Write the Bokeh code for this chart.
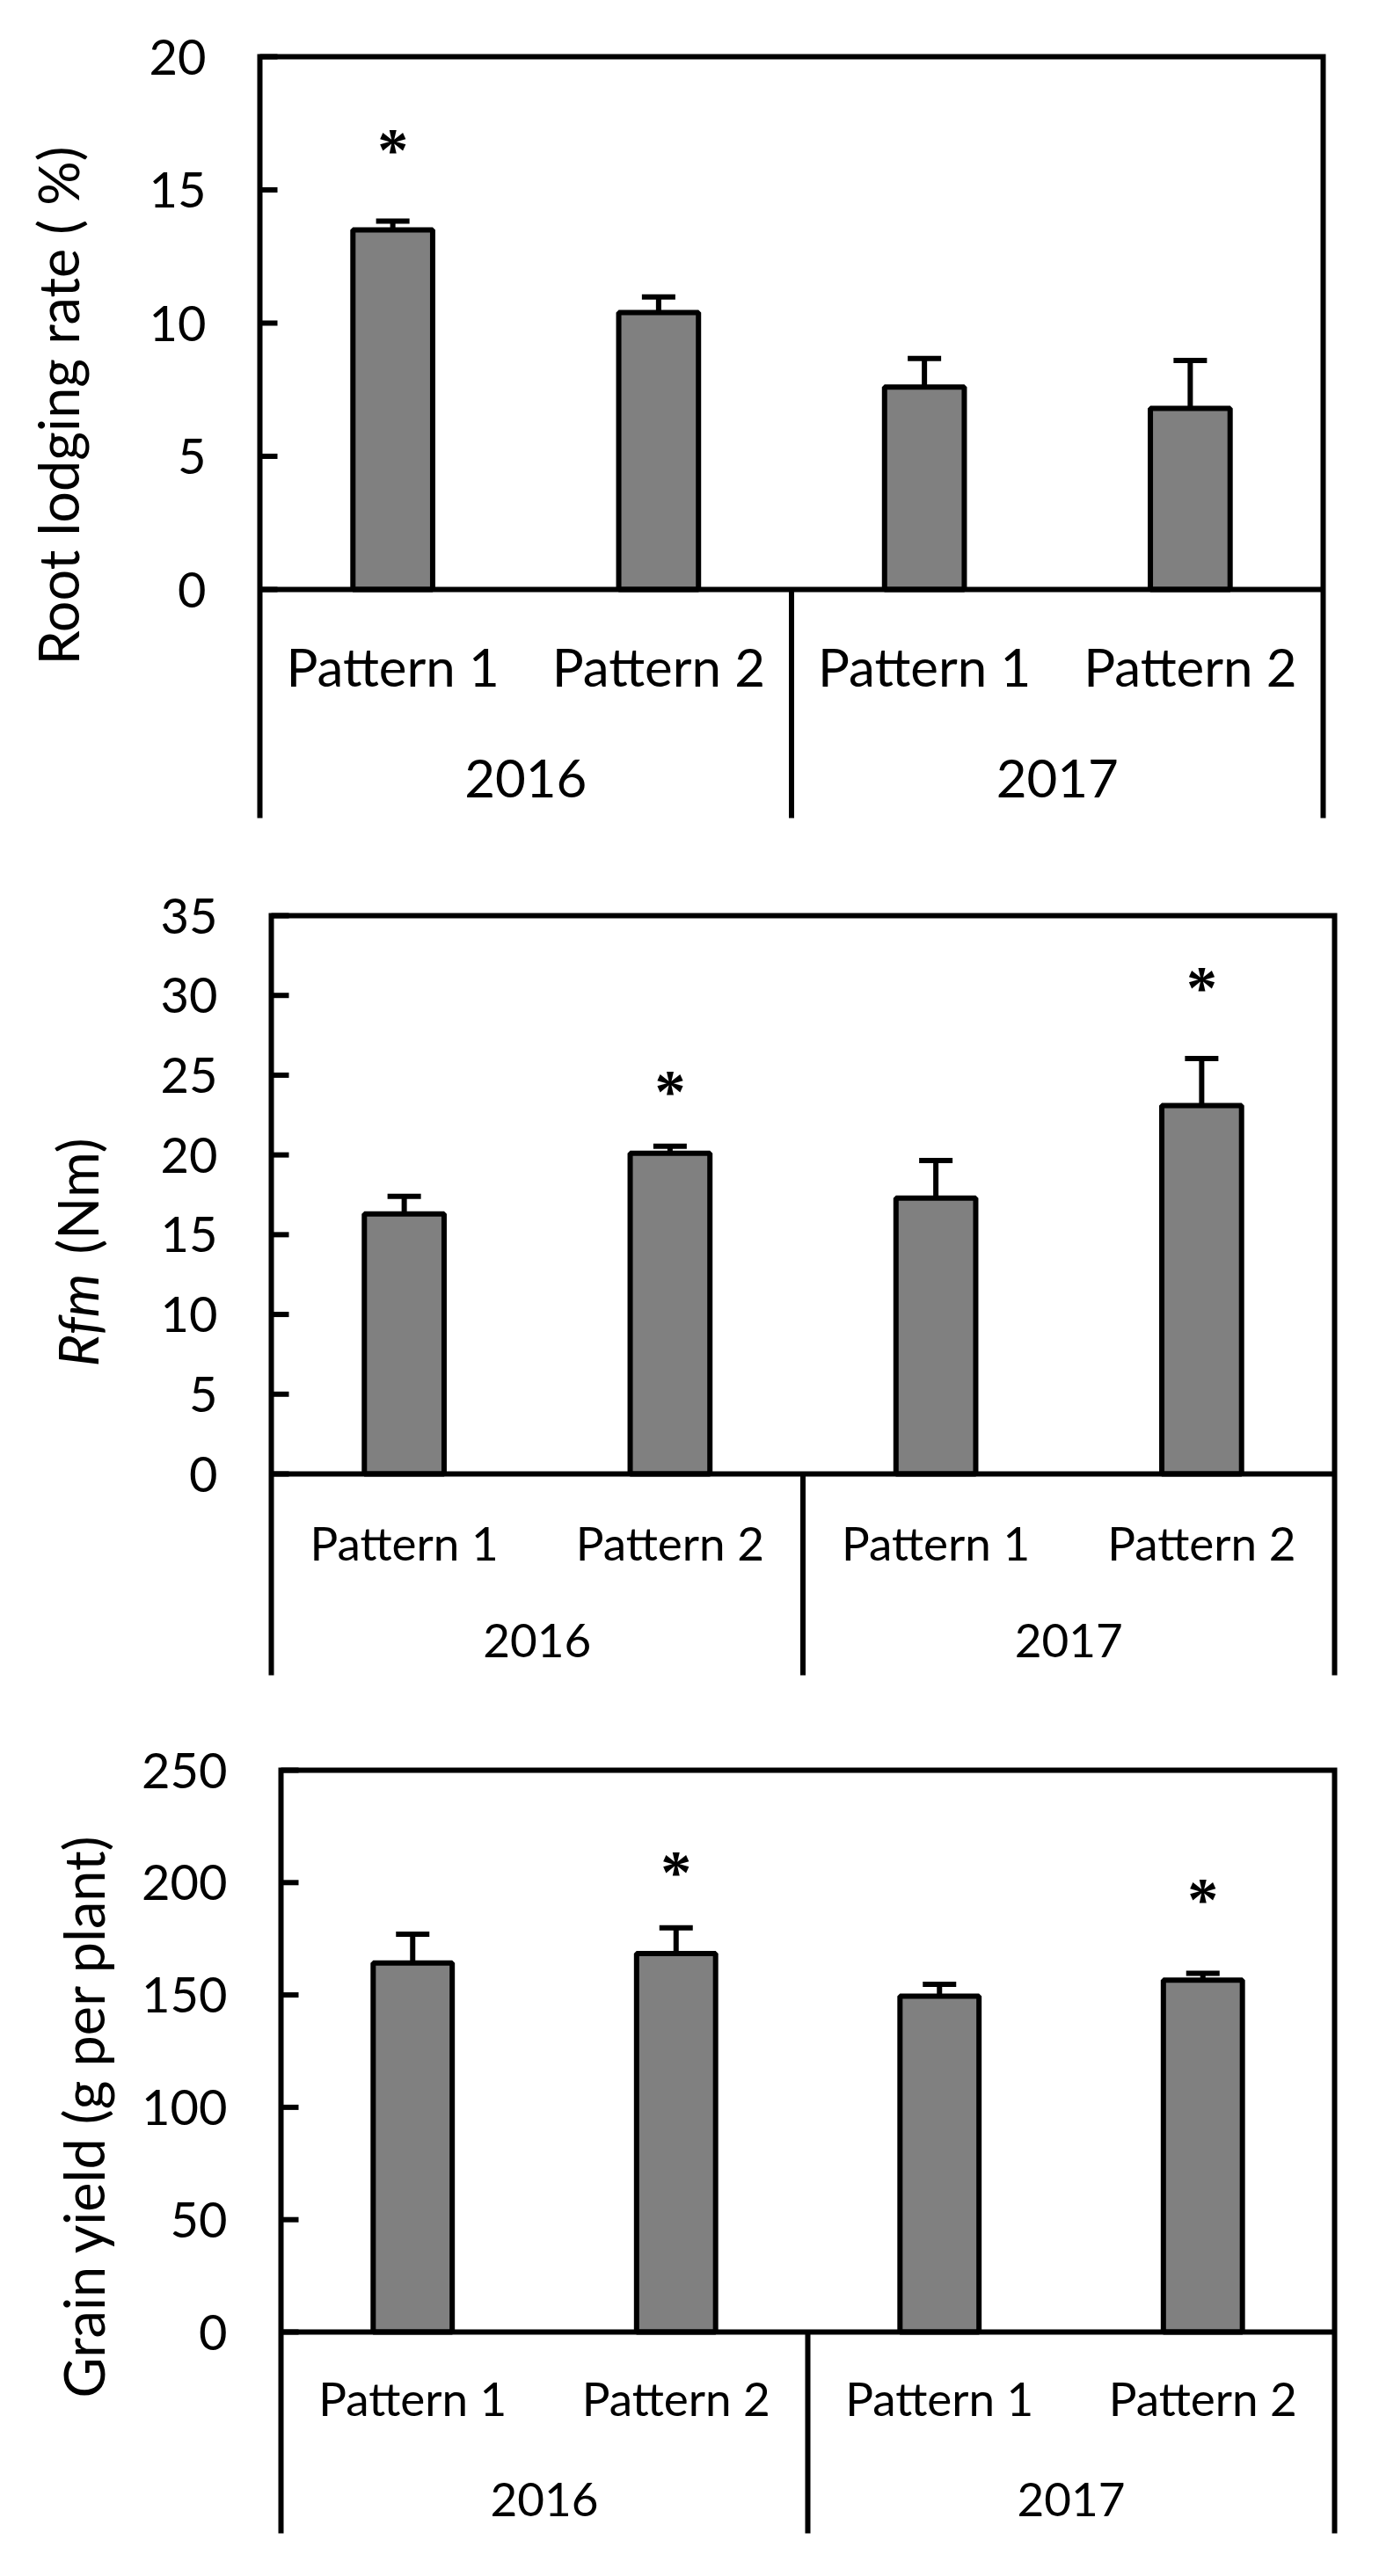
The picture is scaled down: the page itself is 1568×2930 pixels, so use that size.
import math
from bokeh.plotting import figure
from bokeh.layouts import column
from bokeh.models import ColumnDataSource, Range1d, Whisker, TeeHead
from bokeh.core.properties import value
from bokeh.embed import file_html
from bokeh.resources import INLINE

# ---------------- data ----------------
years = ["2016", "2016", "2017", "2017"]
patterns = ["Pattern 1", "Pattern 2", "Pattern 1", "Pattern 2"]
year_labels = ["2016", "2017"]

lodging = [13.5, 10.4, 7.6, 6.8]
lodging_err = [0.33, 0.58, 1.07, 1.8]
lodging_star_idx = [0]
lodging_star_y = [16.8]
lodging_ticks = [0, 5, 10, 15, 20]

rfm = [16.3, 20.1, 17.3, 23.1]
rfm_err = [1.1, 0.45, 2.35, 2.95]
rfm_star_idx = [1, 3]
rfm_star_y = [24.5, 31.0]
rfm_ticks = [0, 5, 10, 15, 20, 25, 30, 35]

grain = [164.2, 168.4, 149.5, 156.6]
grain_err = [12.8, 11.5, 5.2, 3.0]
grain_star_idx = [1, 3]
grain_star_y = [208.0, 196.0]
grain_ticks = [0, 50, 100, 150, 200, 250]

FONT = "Lato"
PAGE_L, PAGE_R = 8, 1560
LW = 6


def panel(vals, errs, star_idx, star_y, ticks, geom, ylabel_parts, cat_font, row_y):
    fig_top, fig_bottom, left, right, top, zero, bottom = geom
    ymax = ticks[-1]
    n = len(vals)
    ppu_y = (zero - top) / ymax
    ppu_x = (right - left) / n
    ymin = -(bottom - zero) / ppu_y

    def dx(px):
        return (px - left) / ppu_x

    def dy(py):
        return (zero - py) / ppu_y

    p = figure(output_backend="svg", toolbar_location=None,
               x_axis_location=None, y_axis_location=None,
               x_range=Range1d(dx(PAGE_L), dx(PAGE_R)),
               y_range=Range1d(dy(fig_bottom), dy(fig_top)),
               frame_width=PAGE_R - PAGE_L, frame_height=fig_bottom - fig_top,
               min_border=0)
    p.background_fill_color = "white"
    p.border_fill_color = "white"
    p.outline_line_color = None
    p.grid.visible = False

    xs = [i + 0.5 for i in range(n)]
    src = ColumnDataSource(dict(x=xs, top=vals,
                                upper=[v + e for v, e in zip(vals, errs)]))
    p.vbar(x="x", top="top", bottom=0, width=0.30, source=src,
           fill_color="#808080", line_color="black", line_width=LW)
    p.add_layout(Whisker(base="x", lower="top", upper="upper", source=src,
                         dimension="height", line_color="black", line_width=LW,
                         lower_head=None,
                         upper_head=TeeHead(size=38, line_width=LW, line_color="black")))

    # frame: left axis + top + right border, zero line, group divider
    p.line([0, 0, n, n], [ymin, ymax, ymax, ymin], line_color="black",
           line_width=LW, line_join="miter")
    p.line([0, n], [0, 0], line_color="black", line_width=LW)
    p.line([n / 2, n / 2], [0, ymin], line_color="black", line_width=LW)

    # y ticks (inside) and tick labels
    tick_len = 20 / ppu_x
    p.segment(x0=[0] * len(ticks), y0=ticks, x1=[tick_len] * len(ticks), y1=ticks,
              line_color="black", line_width=LW)
    p.text(x=[-61 / ppu_x] * len(ticks), y=ticks, text=[str(t) for t in ticks],
           text_font=value(FONT), text_font_size="56px", text_align="right",
           text_baseline="middle", text_color="black")

    # significance stars
    p.text(x=[xs[i] for i in star_idx], y=star_y, text=["*"] * len(star_idx),
           text_font=value("Liberation Serif"), text_font_size="70px",
           text_font_style="bold", y_offset=9,
           text_align="center", text_baseline="middle", text_color="black")

    # category labels
    p.text(x=xs, y=[dy(row_y[0])] * n, text=patterns, text_font=value(FONT),
           text_font_size=cat_font, text_align="center", text_baseline="middle",
           text_color="black")
    p.text(x=[n / 4, 3 * n / 4], y=[dy(row_y[1])] * 2, text=year_labels,
           text_font=value(FONT), text_font_size=cat_font, text_align="center",
           text_baseline="middle", text_color="black")

    # y axis title
    for txt, px, py, align, style in ylabel_parts:
        p.text(x=[dx(px)], y=[dy(py)], text=[txt], angle=math.pi / 2,
               text_align=align, text_baseline="middle", text_font=value(FONT),
               text_font_size="63px", text_font_style=style, text_color="black")
    return p


p1 = panel(lodging, lodging_err, lodging_star_idx, lodging_star_y, lodging_ticks,
           (8, 950, 303, 1512, 72, 678, 938),
           [("Root lodging rate ( %)", 73, 469, "center", "normal")],
           "60px", (765, 893))
p2 = panel(rfm, rfm_err, rfm_star_idx, rfm_star_y, rfm_ticks,
           (950, 1950, 316, 1525, 1049, 1684, 1913),
           [("Rfm", 95, 1562, "left", "italic"), ("(Nm)", 95, 1434, "left", "normal")],
           "53px", (1762, 1873))
p3 = panel(grain, grain_err, grain_star_idx, grain_star_y, grain_ticks,
           (1950, 2922, 327, 1525, 2021, 2660, 2889),
           [("Grain yield (g per plant)", 102, 2414, "center", "normal")],
           "53px", (2735, 2850))

layout = column(p1, p2, p3, spacing=0)
open("out.html", "w").write(file_html(layout, INLINE))
